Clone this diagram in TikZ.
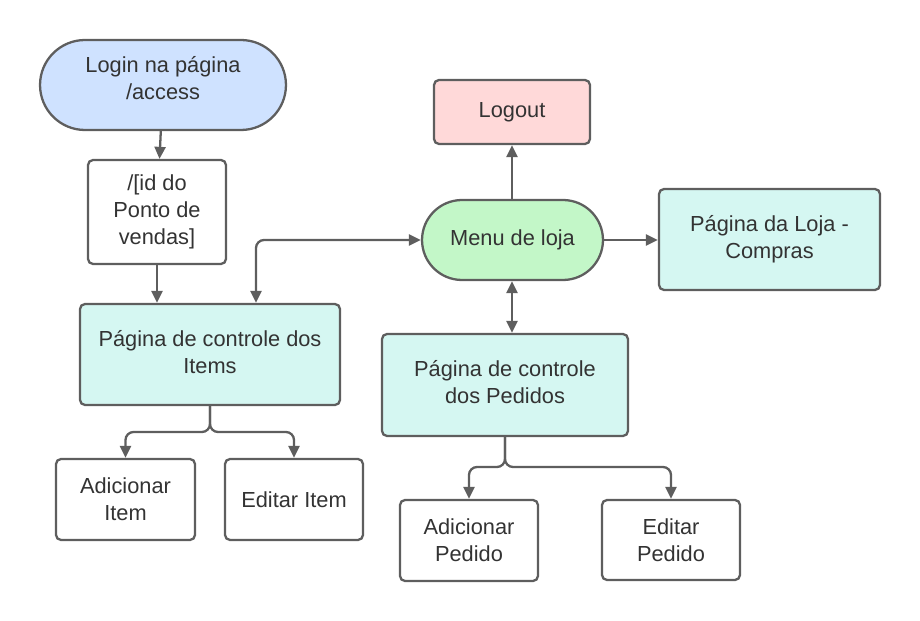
\documentclass[tikz,border=0pt]{standalone}
\usepackage{fontspec}
\setmainfont{Liberation Sans}
\usepackage{tikz}
\usetikzlibrary{positioning,arrows.meta}
\definecolor{linegray}{HTML}{5E5E5E}
\definecolor{textgray}{HTML}{333333}
\definecolor{loginblue}{HTML}{CFE2FF}
\definecolor{logoutred}{HTML}{FFD9D9}
\definecolor{menugreen}{HTML}{C3F7C8}
\definecolor{pagecyan}{HTML}{D5F7F2}
\tikzstyle{box}=[draw=linegray, fill=white, line width=1.3pt, rounded corners=0.1cm, align=center, text=textgray, font=\fontsize{12.4}{15.4}\selectfont, inner sep=0pt]
\tikzstyle{pill}=[box, rounded corners=0.8cm]
\tikzstyle{page}=[box, fill=pagecyan]
\tikzstyle{conn}=[draw=linegray, line width=1.3pt, rounded corners=0.16cm]

\begin{document}
\begin{tikzpicture}[x=0.02cm,y=-0.02cm,>={Triangle[length=0.24cm,width=0.22cm]}]
\useasboundingbox (0,0) rectangle (920,621);

  \node[pill, fill=loginblue, rounded corners=0.9cm, minimum width=4.92cm, minimum height=1.8cm] at (163,85) (login) {Login na página\\/access\rule[-8pt]{0pt}{8pt}};
  \node[box, minimum width=2.76cm, minimum height=2.08cm] at (157,212) (pos) {/[id do\\Ponto de\\vendas]};
\draw[conn,->] (login) -- (pos);

  \node[page, minimum width=5.2cm, minimum height=2.02cm] at (210,354.5) (itens) {Página de controle dos\\Items\rule[-3pt]{0pt}{3pt}};
\draw[conn,->] (pos) -- (pos |- itens.north);

  \node[box, minimum width=2.78cm, minimum height=1.62cm] at (125.5,499.5) (additem) {Adicionar\\Item};
  \node[box, minimum width=2.76cm, minimum height=1.62cm] at (294,499.5) (edititem) {Editar Item};
\coordinate (itfork) at (210,432);
\draw[conn,->] (itens.south) -- (itfork) -| (additem.north);
\draw[conn,->] (itens.south) -- (itfork) -| (edititem.north);

  \node[pill, fill=menugreen, minimum width=3.62cm, minimum height=1.6cm] at (512.5,240) (menu) {Menu de loja};
\draw[conn,<->] (menu.west) -| ([xshift=0.92cm]itens.north);

  \node[box, fill=logoutred, minimum width=3.12cm, minimum height=1.28cm] at (512,112) (logout) {Logout};
\draw[conn,->] (menu.north -| logout) -- (logout);

  \node[page, minimum width=4.42cm, minimum height=2.02cm] at (769.5,239.5) (loja) {Página da Loja -\\Compras};
\draw[conn,->] (menu.east) -- (loja.west |- menu.east);

  \node[page, minimum width=4.92cm, minimum height=2.04cm] at (505,385) (pedidos) {Página de controle\\dos Pedidos\rule[-3pt]{0pt}{3pt}};
\draw[conn,<->] (menu.south -| logout) -- (pedidos.north -| logout);

  \node[box, minimum width=2.76cm, minimum height=1.62cm] at (469,540.5) (addped) {Adicionar\\Pedido};
  \node[box, minimum width=2.76cm, minimum height=1.6cm] at (671,540) (editped) {Editar\\Pedido};
\coordinate (pdfork) at (505,467);
\draw[conn,->] (pedidos.south) -- (pdfork) -| (addped.north);
\draw[conn,->] (pedidos.south) -- (pdfork) -| (editped.north);
\end{tikzpicture}
\end{document}
